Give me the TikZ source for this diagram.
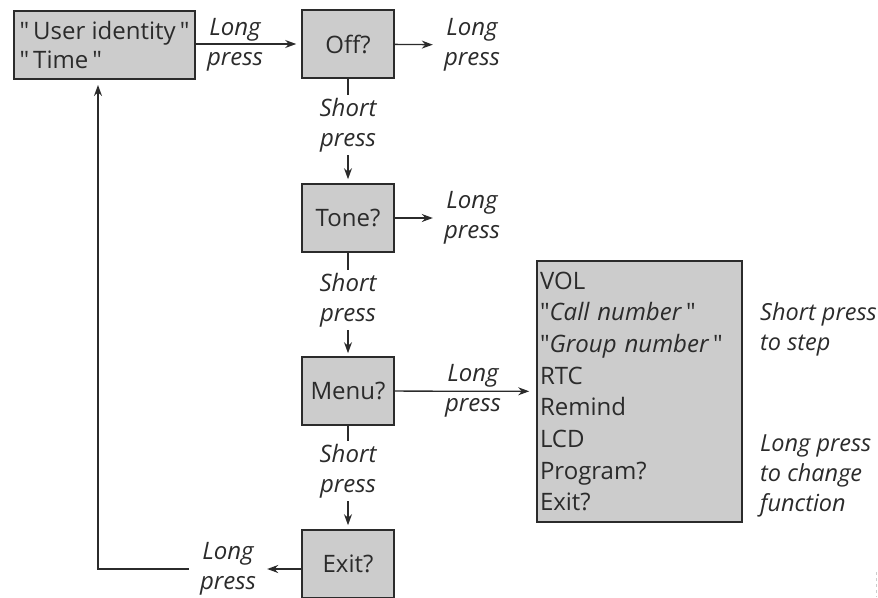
\documentclass[tikz,border=0pt]{standalone}
\usepackage{fontspec}
\setmainfont{Open Sans}[Ligatures=TeXOff]
\usetikzlibrary{arrows.meta}
\definecolor{boxgray}{HTML}{CCCCCC}
\definecolor{inkgray}{HTML}{2B2B2B}

\begin{document}
\begin{tikzpicture}[x=1pt, y=-1pt,
		statebox/.style={draw=inkgray, fill=boxgray, line width=1.6pt, text=inkgray, minimum width=92pt, minimum height=68pt, inner sep=0pt, font=\fontsize{24}{29}\selectfont},
		listbox/.style={draw=inkgray, fill=boxgray, line width=1.6pt, text=inkgray, align=left, text width=199pt, inner xsep=3pt, minimum height=261pt, font=\fontsize{24}{31.7}\selectfont},
		presslabel/.style={align=center, text=inkgray, inner xsep=11pt, inner ysep=3pt, font=\fontsize{24}{30}\selectfont\itshape},
		notetext/.style={align=left, text=inkgray, inner sep=0pt, font=\fontsize{23.5}{30}\selectfont\itshape},
		flowline/.style={line width=1.3pt, draw=inkgray},
		flow/.style={flowline, -{Stealth[length=11pt,width=8pt]}}]
		%%%%% START %%%%%
		
		\clip (0, 0) rectangle (878, 597);
		
		\node[statebox, minimum width=181pt, align=left] (user) at (104.5, 45) {"\,User identity\,"\\"\,Time\,"};
		\node[statebox] (off) at (348, 44) {Off?};
		\node[statebox] (tone) at (348, 218) {Tone?};
		\node[statebox] (menu) at (348, 391) {Menu?};
		\node[statebox] (exit) at (348, 564) {Exit?};
		
		\node[listbox] (list) at (639.5, 391.5) {VOL\\"\textit{Call number}\,"\\"\textit{Group number}\,"\\RTC\\Remind\\LCD\\Program?\\Exit?};
		
		\node[presslabel] (lp0) at (235, 45) {Long\\press};
		\node[presslabel] (lp1) at (472, 45) {Long\\press};
		\node[presslabel] (lp2) at (472, 218) {Long\\press};
		\node[presslabel] (lp3) at (473, 391) {Long\\press};
		\node[presslabel] (lp4) at (228, 569) {Long\\press};
		
		\node[presslabel] (sp1) at (348, 125) {Short\\press};
		\node[presslabel] (sp2) at (348, 300) {Short\\press};
		\node[presslabel] (sp3) at (348, 471) {Short\\press};
		
		\node[notetext, anchor=west] (note1) at (760, 329) {Short press\\to step};
		\node[notetext, anchor=west] (note2) at (760, 476) {Long press\\to change\\function};
		
		\coordinate (ret) at (98, 78);
		
		\draw[flow, shorten >=5pt] (user.east |- off) -- (off);
		\draw[flow] (off) -- (lp1);
		\draw[flow] (tone) -- (lp2);
		\draw[flow, shorten >=7pt] (menu) -- (list);
		
		\draw[flowline] (off) -- (sp1);
		\draw[flow, shorten >=4pt] (sp1) -- (tone);
		\draw[flowline] (tone) -- (sp2);
		\draw[flow, shorten >=3pt] (sp2) -- (menu);
		\draw[flowline] (menu) -- (sp3);
		\draw[flow, shorten >=4pt] (sp3) -- (exit);
		
		\draw[flow] (exit.west |- lp4) -- (lp4);
		\draw[flow, shorten >=7pt] (lp4) -| (ret);
		
		\draw[gray!40, dashed, line width=0.6pt] (876, 572) -- (876, 597);
		
		%%%%% END %%%%%
\end{tikzpicture}
\end{document}
